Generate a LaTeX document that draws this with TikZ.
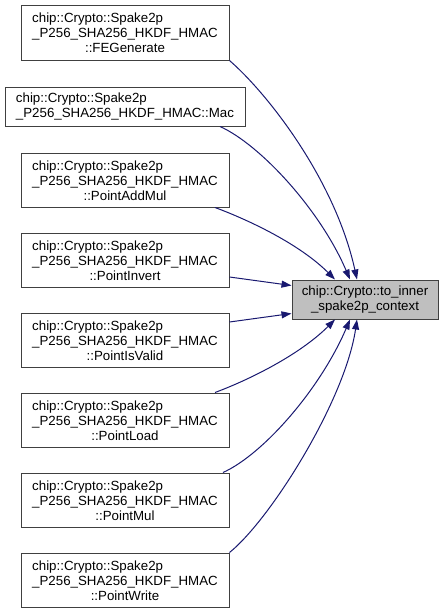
\documentclass[tikz,border=0pt]{standalone}
\usepackage{fontspec}
\setmainfont{Liberation Sans}
\usetikzlibrary{arrows.meta}

\definecolor{boxline}{HTML}{404040}
\definecolor{boxfill}{HTML}{BFBFBF}
\definecolor{edgeblue}{HTML}{191970}

\newcommand{\spkname}[1]{\begin{tabular}[b]{@{}l@{}}chip::Crypto::Spake2p\\\_P256\_SHA256\_HKDF\_HMAC\end{tabular}\\#1}

\begin{document}
\begin{tikzpicture}[x=1pt,y=-1pt,
    fn/.style={draw=boxline, line width=1pt, fill=white, inner sep=0pt,
        minimum width=208pt, minimum height=54pt, align=center,
        font=\fontsize{13.3}{15}\selectfont},
    callee/.style={fn, fill=boxfill, minimum width=146pt, minimum height=39pt},
    calls/.style={draw=edgeblue, line width=1pt,
        -{Triangle[length=10pt,width=7pt]}}]
            \useasboundingbox (0,0) rectangle (444,613);

            \node[fn, minimum height=55pt] (fegen) at (125,32.5) {\spkname{::FEGenerate}};
            \node[fn, minimum width=240pt, minimum height=39pt, align=left] (mac) at (125,106.5)
                {chip::Crypto::Spake2p\\\_P256\_SHA256\_HKDF\_HMAC::Mac};
            \node[fn] (addmul) at (125,180) {\spkname{::PointAddMul}};
            \node[fn] (invert) at (125,260) {\spkname{::PointInvert}};
            \node[fn] (isvalid) at (125,340) {\spkname{::PointIsValid}};
            \node[fn] (load) at (125,420) {\spkname{::PointLoad}};
            \node[fn] (mul) at (125,500) {\spkname{::PointMul}};
            \node[fn] (write) at (125,580) {\spkname{::PointWrite}};

            \node[callee] (ctx) at (365,299.5) {chip::Crypto::to\_inner\\\_spake2p\_context};

            \draw[calls] (fegen.south east) .. controls +(38,33) and +(-22,-100) .. ([xshift=-8pt]ctx.north);
            \draw[calls] ([xshift=95pt]mac.south) .. controls +(40,18) and +(-30,-70) .. ([xshift=-15pt]ctx.north);
            \draw[calls] ([xshift=90pt]addmul.south) .. controls +(35,13) and +(-35,-35) .. ([xshift=-30pt]ctx.north);
            \draw[calls] ([yshift=-17pt]invert.east) -- ([yshift=14pt]ctx.west);
            \draw[calls] ([yshift=18pt]isvalid.east) -- ([yshift=-14pt]ctx.west);
            \draw[calls] ([xshift=90pt]load.north) .. controls +(35,-13) and +(-35,35) .. ([xshift=-30pt]ctx.south);
            \draw[calls] ([xshift=98pt]mul.north) .. controls +(40,-18) and +(-30,70) .. ([xshift=-15pt]ctx.south);
            \draw[calls] (write.north east) .. controls +(41,-33) and +(-12,81) .. ([xshift=-8pt]ctx.south);
        \end{tikzpicture}
\end{document}
